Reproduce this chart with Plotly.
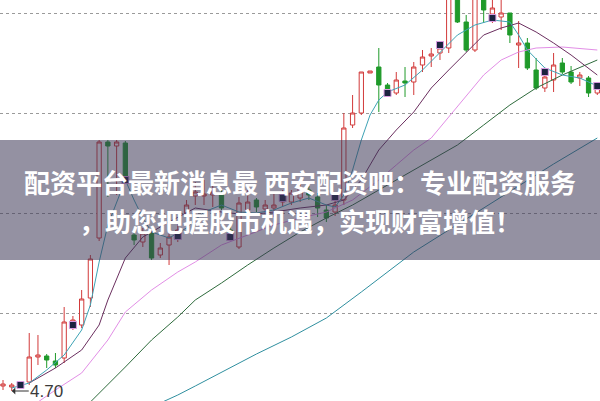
import plotly.graph_objects as go

# ---- candle data (index, open, high, low, close) ----
idx = list(range(69))
opens = [4.75, 4.74, 4.78, 4.79, 5.04, 5.05, 5.00, 5.03, 5.34, 5.36,
         5.63, 6.23, 7.19, 7.15, 7.18, 6.26, 6.19, 6.28, 6.06, 6.16,
         6.23, 6.48, 6.65, 6.65, 6.66, 6.68, 6.31, 6.14, 6.51, 6.61,
         6.52, 6.53, 6.59, 6.59, 6.63, 6.71, 6.64, 6.51, 6.49, 6.61,
         7.36, 7.48, 7.88, 7.94, 7.76, 7.68, 7.80, 7.79, 7.96, 8.05,
         8.08, 8.13, 8.66, 8.39, 8.11, 8.66, 8.47, 8.44, 8.48, 8.16,
         8.18, 7.91, 7.73, 7.81, 7.98, 7.89, 7.83, 7.83, 7.68]
highs = [4.81, 4.78, 4.80, 5.28, 5.26, 5.07, 5.08, 5.54, 5.45, 5.71,
         6.06, 7.21, 7.21, 7.21, 7.20, 6.31, 6.33, 6.30, 6.18, 6.29,
         6.39, 6.61, 6.79, 6.81, 6.76, 6.71, 6.35, 6.64, 6.71, 6.63,
         6.61, 6.69, 6.71, 6.71, 6.79, 6.75, 6.68, 6.56, 6.66, 7.48,
         7.66, 7.89, 7.90, 8.13, 7.78, 7.89, 7.94, 7.99, 8.11, 8.13,
         8.19, 8.71, 8.71, 8.46, 8.71, 8.71, 8.66, 8.66, 8.48, 8.40,
         8.23, 8.03, 7.91, 8.08, 8.03, 7.95, 7.89, 7.85, 7.77]
lows = [4.71, 4.70, 4.72, 4.76, 4.96, 4.93, 4.93, 4.98, 5.31, 5.33,
        5.54, 6.20, 6.64, 6.66, 6.78, 6.16, 6.14, 6.01, 6.03, 5.96,
        6.19, 6.44, 6.56, 6.56, 6.54, 6.51, 6.21, 6.12, 6.44, 6.49,
        6.49, 6.44, 6.55, 6.56, 6.59, 6.61, 6.44, 6.39, 6.45, 6.56,
        7.33, 7.46, 7.88, 7.49, 7.67, 7.66, 7.64, 7.66, 7.89, 7.94,
        8.01, 8.08, 8.38, 8.09, 8.09, 8.38, 8.38, 8.31, 8.18, 7.93,
        7.91, 7.71, 7.69, 7.69, 7.87, 7.77, 7.75, 7.64, 7.66]
closes = [4.77, 4.76, 4.74, 5.04, 5.06, 5.01, 4.96, 5.39, 5.41, 5.62,
          6.02, 7.19, 7.15, 7.19, 6.81, 6.21, 6.28, 6.03, 6.13, 6.24,
          6.31, 6.56, 6.69, 6.67, 6.69, 6.53, 6.25, 6.58, 6.59, 6.54,
          6.56, 6.56, 6.65, 6.68, 6.73, 6.66, 6.53, 6.43, 6.56, 7.33,
          7.48, 7.89, 7.90, 7.76, 7.70, 7.81, 7.78, 7.94, 8.04, 8.07,
          8.13, 8.63, 8.39, 8.11, 8.66, 8.51, 8.53, 8.48, 8.26, 8.18,
          7.93, 7.73, 7.84, 7.96, 7.89, 7.79, 7.86, 7.68, 7.73]

# ---- moving averages (index, value) ----
ma5_x = [1, 3, 5, 7, 9, 10, 11, 12, 14, 15, 16, 17, 19, 21, 23, 25, 27, 29, 31, 33, 35,
         37, 38, 39, 40, 41, 42, 43, 44, 46, 48, 50, 52, 54, 56, 58, 59, 60, 62, 64, 66, 68]
ma5_y = [4.73, 4.78, 4.91, 5.06, 5.31, 5.56, 5.99, 6.36, 6.81, 6.61, 6.43, 6.29, 6.23,
         6.33, 6.49, 6.56, 6.49, 6.48, 6.51, 6.58, 6.63, 6.56, 6.54, 6.66, 6.91, 7.21,
         7.46, 7.61, 7.69, 7.76, 7.91, 8.09, 8.26, 8.36, 8.41, 8.39, 8.26, 8.11, 7.93,
         7.86, 7.83, 7.75]
ma10_x = [3, 6, 9, 11, 12, 14, 16, 19, 22, 25, 28, 31, 34, 37, 39, 41, 43, 45, 47, 49,
          51, 53, 55, 57, 59, 61, 63, 65, 67, 68]
ma10_y = [4.78, 4.93, 5.11, 5.36, 5.61, 6.03, 6.24, 6.39, 6.53, 6.49, 6.46, 6.49, 6.53,
          6.56, 6.61, 6.81, 7.11, 7.31, 7.49, 7.73, 7.91, 8.09, 8.26, 8.33, 8.38, 8.29,
          8.18, 8.06, 7.93, 7.86]
ma20_x = [4, 6, 9, 12, 14, 17, 20, 22, 25, 28, 31, 34, 37, 40, 43, 45, 47, 49, 51, 53,
          55, 57, 59, 61, 64, 68]
ma20_y = [4.59, 4.71, 4.88, 5.21, 5.49, 5.71, 5.89, 5.99, 6.16, 6.26, 6.36, 6.43, 6.49,
          6.61, 6.81, 6.96, 7.11, 7.23, 7.44, 7.66, 7.86, 8.01, 8.09, 8.13, 8.14, 8.11]
ma30_x = [10, 12, 14, 17, 20, 22, 25, 28, 31, 34, 37, 40, 43, 46, 49, 52, 55, 58, 61, 64, 68]
ma30_y = [4.59, 4.76, 4.94, 5.21, 5.44, 5.61, 5.78, 5.96, 6.13, 6.29, 6.43, 6.56, 6.71,
          6.86, 7.01, 7.16, 7.36, 7.56, 7.73, 7.86, 8.01]
ma60_x = [18, 20, 22, 25, 29, 33, 37, 41, 45, 47, 51, 55, 59, 63, 68]
ma60_y = [4.58, 4.66, 4.75, 4.89, 5.07, 5.24, 5.43, 5.69, 5.96, 6.09, 6.31, 6.53, 6.75,
          6.97, 7.23]

# ---- signal markers ----
sig_x = [2, 8, 14, 20, 26, 32, 38, 44, 50, 56, 62, 68]
sig_y = [4.76, 5.36, 6.81, 6.25, 6.24, 6.63, 6.64, 7.68, 8.16, 8.43, 7.89, 7.75]

grid_vals = [5.48, 6.48, 7.48, 8.48]
low_label = "4.70"
low_idx = 1
low_val = 4.70
line1 = "配资平台最新消息最 西安配资吧：专业配资服务"
line2 = "，助您把握股市机遇，实现财富增值！"

fig = go.Figure()
fig.add_trace(go.Candlestick(
    x=idx, open=opens, high=highs, low=lows, close=closes,
    increasing=dict(line=dict(color="#d23a3a", width=1), fillcolor="#ffffff"),
    decreasing=dict(line=dict(color="#1f9a2a", width=1), fillcolor="#1f9a2a"),
    whiskerwidth=0, hoverinfo="skip"))

for xs, ys, col in [(ma60_x, ma60_y, "#2f8f9f"), (ma30_x, ma30_y, "#2e6b3c"),
                    (ma20_x, ma20_y, "#e28ee6"), (ma10_x, ma10_y, "#6b2f5f"),
                    (ma5_x, ma5_y, "#3ea3b5")]:
    fig.add_trace(go.Scatter(x=xs, y=ys, mode="lines",
                             line=dict(color=col, width=1), hoverinfo="skip"))

fig.add_trace(go.Scatter(x=sig_x, y=sig_y, mode="markers",
                         marker=dict(symbol="square", size=7, color="#1b2340",
                                     line=dict(color="#d99be0", width=1)),
                         hoverinfo="skip"))

fig.add_annotation(x=low_idx, y=low_val, xref="x", yref="y", text=low_label,
                   showarrow=True, ax=35, ay=0, arrowhead=1, arrowwidth=1.2,
                   arrowsize=1, arrowcolor="#333333",
                   font=dict(family="Liberation Sans, Arial", size=17, color="#3a3a3a"))

# overlay banner
fig.add_shape(type="rect", xref="paper", yref="paper", x0=0, x1=1,
              y0=1 - 260 / 401, y1=1 - 140 / 401, layer="above",
              line=dict(width=0), fillcolor="rgba(60,55,85,0.55)")
for txt, yp in [(line1, 182), (line2, 220)]:
    fig.add_annotation(xref="paper", yref="paper", x=0.5, y=1 - yp / 401,
                       xanchor="center", yanchor="middle", showarrow=False,
                       text="<b>" + txt + "</b>",
                       font=dict(family="Noto Sans CJK SC", size=26, color="#ffffff"))

fig.update_layout(
    width=600, height=401, margin=dict(l=0, r=0, t=0, b=0),
    paper_bgcolor="#ffffff", plot_bgcolor="#ffffff", showlegend=False,
    xaxis=dict(range=[-0.343, 68.31], showgrid=False, zeroline=False,
               showticklabels=False, ticks="", rangeslider=dict(visible=False)),
    yaxis=dict(range=[8.61 - 401 / 100, 8.61], tickvals=grid_vals, showgrid=True,
               gridcolor="#9a9a9a", griddash="dot", gridwidth=1, zeroline=False,
               showticklabels=False, ticks=""),
)
fig.write_html("out.html", config={"displayModeBar": False},
               post_script="document.body.style.margin='0';document.body.style.overflow='hidden';")
